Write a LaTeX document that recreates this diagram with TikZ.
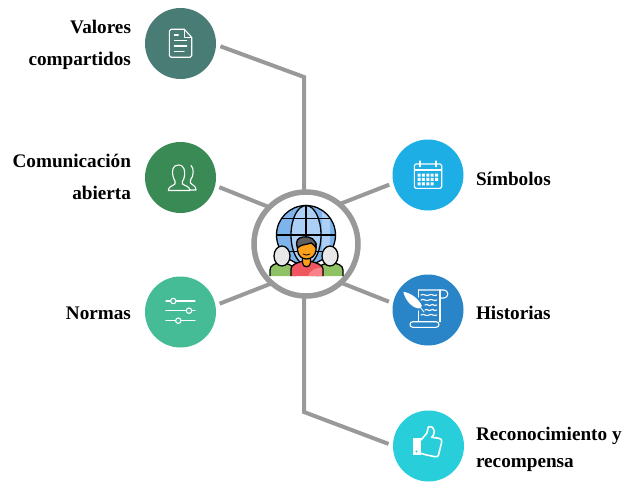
\documentclass[tikz,border=0pt]{standalone}
\usepackage{fontspec}
\setmainfont{Liberation Serif}
\usetikzlibrary{positioning}

\definecolor{linkgray}{HTML}{999999}
\definecolor{valorescol}{HTML}{4A7C76}
\definecolor{comunicacol}{HTML}{3A8A55}
\definecolor{normascol}{HTML}{45BB96}
\definecolor{simboloscol}{HTML}{1EAEE6}
\definecolor{historiascol}{HTML}{2A85C8}
\definecolor{premiocol}{HTML}{28CFDB}

\begin{document}
\begin{tikzpicture}[x = 1pt, y = -1pt,
						topic/.style={circle, minimum size = 71pt, inner sep = 0pt, outer sep = 4.5pt},
						label/.style={font = \bfseries\fontsize{19.2}{32}\selectfont},
						link/.style={draw = linkgray, line width = 4pt, line join = miter},
						icon/.style={draw = white, line width = 1.1pt, line join = round, line cap = round},
						outline/.style={draw = black, line width = 1.3pt, line join = round},
						]

		\useasboundingbox (0, 0) rectangle (637, 495);

		% Hub and topic circles
		\node[circle, minimum size = 104pt, inner sep = 0pt, outer sep = 0pt] (hub) at (306, 244) {};
		\node[topic, fill = valorescol] (valores) at (180.5, 43.5) {};
		\node[topic, fill = comunicacol] (comunicacion) at (180.5, 177.5) {};
		\node[topic, fill = normascol] (normas) at (180.5, 312) {};
		\node[topic, fill = simboloscol] (simbolos) at (428, 175) {};
		\node[topic, fill = historiascol] (historias) at (428, 310) {};
		\node[topic, fill = premiocol] (premio) at (428.5, 446) {};

		% Labels
		\node[label, align = right, left = 6pt of valores, yshift = -1.5pt] (valoresText) {Valores\\compartidos};
		\node[label, align = right, left = 6pt of comunicacion, yshift = 0.5pt] (comunicacionText) {Comunicación\\abierta};
		\node[label, left = 6pt of normas, yshift = -1.5pt] (normasText) {Normas};
		\node[label, right = 44.5pt of simbolos.center, yshift = -4pt] (simbolosText) {Símbolos};
		\node[label, right = 44.5pt of historias.center, yshift = -3pt] (historiasText) {Historias};
		\node[label, align = left, font = \bfseries\fontsize{19.2}{27}\selectfont, right = 44pt of premio.center, yshift = -3.5pt] (premioText) {Reconocimiento y\\recompensa};

		% Connectors
		\coordinate (bendTop) at (304, 77);
		\coordinate (bendBottom) at (304, 412);
		\draw[link] (valores.-4) -- (bendTop) -- (bendTop |- hub.north);
		\draw[link] (comunicacion.-14) -- (hub.135);
		\draw[link] (normas.12) -- (hub.229);
		\draw[link] (simbolos.194) -- (hub.50);
		\draw[link] (historias.168) -- (hub.-48);
		\draw[link] (premio.177) -- (bendBottom) -- (bendBottom |- hub.south);

		% Hub ring
		\draw[draw = linkgray, line width = 5.5pt, fill = white] (hub.center) circle[radius = 52];

		% Globe
		\fill[fill = {rgb,255:red,125;green,180;blue,236}] (306, 235) circle[radius = 29.5];
		\begin{scope}
			\clip (306, 235) circle[radius = 29.5];
			\fill[fill = {rgb,255:red,172;green,208;blue,245}] (306, 235) ellipse[x radius = 15, y radius = 30];
			\fill[fill = {rgb,255:red,172;green,208;blue,245}] (322, 205) rectangle (330, 265);
		\end{scope}
		\draw[outline] (306, 235) circle[radius = 29.5];
		\draw[outline] (306, 235) ellipse[x radius = 15, y radius = 29.5];
		\draw[outline] (306, 205.5) -- (306, 264);
		\draw[outline] (281.7, 218.3) -- (330.3, 218.3);
		\draw[outline] (276.5, 235) -- (335.5, 235);
		\draw[outline] (281.7, 251.7) -- (330.3, 251.7);

		% Side persons
		\draw[outline, fill = {rgb,255:red,143;green,194;blue,101}] (270, 276) -- (270, 270) .. controls (270, 265) and (275, 264) .. (281, 262) .. controls (288, 264) and (293, 265) .. (295, 270) -- (295, 276);
		\draw[outline, fill = {rgb,255:red,143;green,194;blue,101}] (343, 276) -- (343, 270) .. controls (343, 265) and (338, 264) .. (331, 262) .. controls (324, 264) and (319, 265) .. (317, 270) -- (317, 276);
		\draw[outline, fill = {rgb,255:red,232;green,232;blue,232}] (282, 256) ellipse[x radius = 8, y radius = 10];
		\draw[outline, fill = {rgb,255:red,232;green,232;blue,232}] (330, 256) ellipse[x radius = 8, y radius = 10];

		% Centre person
		\draw[outline, fill = {rgb,255:red,240;green,86;blue,95}] (291, 276) -- (291, 269) .. controls (291, 265) and (296, 263) .. (303, 261) -- (310, 261) .. controls (317, 263) and (323, 265) .. (323, 269) -- (323, 276);
		\fill[fill = {rgb,255:red,248;green,130;blue,135}] (308, 276) .. controls (310, 270) and (317, 267) .. (322, 268) -- (322, 276) -- cycle;
		\draw[outline, fill = {rgb,255:red,251;green,161;blue,27}] (302.5, 256) -- (302.5, 263) .. controls (303, 268) and (310, 268) .. (310.5, 263) -- (310.5, 256);
		\draw[outline, fill = {rgb,255:red,251;green,161;blue,27}] (297.5, 243) -- (297.5, 250) .. controls (298, 256) and (302, 259) .. (306.5, 259) .. controls (311, 259) and (315.5, 256) .. (316, 250) -- (316, 243) -- cycle;
		\draw[outline, fill = {rgb,255:red,95;green,95;blue,95}] (297.5, 248) .. controls (295, 240) and (298, 238) .. (303, 237) .. controls (310, 236) and (317, 239) .. (316, 248) .. controls (314, 245) and (313, 244) .. (311, 243) .. controls (306, 245) and (301, 244) .. (297.5, 248) -- cycle;
		\draw[black, line width = 0.8pt] (303, 254) .. controls (305, 255.5) and (308, 255.5) .. (310, 254);

		% Document icon
		\draw[icon] (184.3, 29.3) -- (171, 29.3) .. controls (170, 29.3) and (169.3, 30) .. (169.3, 31) -- (169.3, 55.5) .. controls (169.3, 56.5) and (170, 57.3) .. (171, 57.3) -- (190, 57.3) .. controls (191, 57.3) and (191.7, 56.5) .. (191.7, 55.5) -- (191.7, 37.3) -- cycle;
		\draw[icon] (184.3, 29.3) -- (184.3, 37.3) -- (191.7, 37.3);
		\draw[icon] (174.3, 35) -- (178.3, 35);
		\draw[icon] (174.3, 40.7) -- (186.7, 40.7);
		\draw[icon] (174.3, 46) -- (186.7, 46);
		\draw[icon] (174.3, 51.7) -- (184, 51.7);

		% People icon
		\draw[icon] (191, 165.5) .. controls (194, 168) and (194, 176) .. (190.5, 180) -- (190.5, 183) .. controls (192, 186) and (196, 185) .. (196, 190) -- (190, 190);
		\draw[icon] (178.3, 165) .. controls (172, 165) and (172, 172) .. (173, 176) .. controls (173.5, 179) and (174.5, 180) .. (175, 181) -- (175, 184) .. controls (173, 186) and (168.5, 186) .. (168.3, 190.5) -- (190, 190.5) .. controls (189.5, 186) and (185, 186) .. (182.5, 184) -- (182.5, 181) .. controls (183.5, 180) and (184, 179) .. (184.5, 176) .. controls (185, 172) and (185, 165) .. (178.3, 165) -- cycle;

		% Sliders icon
		\draw[icon] (166, 301) -- (195, 301);
		\draw[icon] (166, 310.7) -- (195, 310.7);
		\draw[icon] (166, 320.7) -- (195, 320.7);
		\draw[icon, fill = normascol] (173.3, 301) circle[radius = 2.7];
		\draw[icon, fill = normascol] (189, 310.7) circle[radius = 2.7];
		\draw[icon, fill = normascol] (178.3, 320.7) circle[radius = 2.7];

		% Calendar icon
		\draw[icon, rounded corners = 1.5pt] (414.3, 164) rectangle (441.7, 188.3);
		\draw[icon] (414.3, 170) -- (441.7, 170);
		\draw[icon] (420, 161) -- (420, 166.7);
		\draw[icon] (436, 161) -- (436, 166.7);
		\fill[white] (417.5, 173.5) rectangle +(3, 3) (421.9, 173.5) rectangle +(3, 3) (426.3, 173.5) rectangle +(3, 3) (430.7, 173.5) rectangle +(3, 3) (435.1, 173.5) rectangle +(3, 3);
		\fill[white] (417.5, 177.9) rectangle +(3, 3) (421.9, 177.9) rectangle +(3, 3) (426.3, 177.9) rectangle +(3, 3) (430.7, 177.9) rectangle +(3, 3) (435.1, 177.9) rectangle +(3, 3);
		\fill[white] (417.5, 182.3) rectangle +(3, 3) (421.9, 182.3) rectangle +(3, 3) (426.3, 182.3) rectangle +(3, 3) (430.7, 182.3) rectangle +(3, 3);

		% Scroll icon
		\draw[icon] (418.3, 290) -- (444, 290) .. controls (449, 290) and (449, 298) .. (444, 298) -- (440, 298);
		\draw[icon] (418.3, 290) -- (418.3, 297);
		\draw[icon] (440, 290) -- (440, 321.7);
		\draw[icon] (418.3, 311) -- (418.3, 321.7);
		\draw[icon] (413, 321.7) -- (436, 321.7) .. controls (440, 321.7) and (440, 327.3) .. (436, 327.3) -- (413, 327.3) .. controls (409, 327.3) and (409, 321.7) .. (413, 321.7) -- cycle;
		\draw[icon] (421, 295) .. controls (424, 293) and (426, 297) .. (429, 295) .. controls (432, 293) and (434, 297) .. (436.7, 295);
		\draw[icon] (421, 300) .. controls (424, 298) and (426, 302) .. (429, 300) .. controls (432, 298) and (434, 302) .. (436.7, 300);
		\draw[icon] (425, 305) .. controls (427, 303) and (429, 307) .. (431, 305) .. controls (433, 303) and (434, 307) .. (436.7, 305);
		\draw[icon] (425, 310) .. controls (427, 308) and (429, 312) .. (431, 310) .. controls (433, 308) and (434, 312) .. (436.7, 310);
		\draw[icon] (421, 315) .. controls (424, 313) and (426, 317) .. (429, 315) .. controls (432, 313) and (434, 317) .. (436.7, 315);
		\fill[white] (403.3, 291.7) .. controls (411, 293) and (419, 299) .. (422, 306) -- (419, 308.5) .. controls (412, 308) and (405, 300) .. (403.3, 291.7) -- cycle;
		\draw[icon, line width = 0.8pt] (420, 307) -- (424, 312);

		% Thumb icon
		\draw[icon, line width = 1.6pt] (421, 440) -- (426.7, 433.3) .. controls (428, 431) and (427.5, 429) .. (428.3, 427) .. controls (430, 425.5) and (433, 426.5) .. (434.3, 431) .. controls (434.8, 433.5) and (433, 436) .. (431.7, 437.3) -- (439, 438.3) .. controls (441, 438.5) and (442, 440) .. (441.7, 442) -- (438.5, 455) .. controls (438, 456.7) and (437, 457) .. (435, 456.7) -- (426.7, 455) -- (421, 453.3);
		\fill[white] (413.3, 438.3) rectangle (421, 455);
		\fill[premiocol] (416.5, 451.5) circle[radius = 1.1];

\end{tikzpicture}
\end{document}
